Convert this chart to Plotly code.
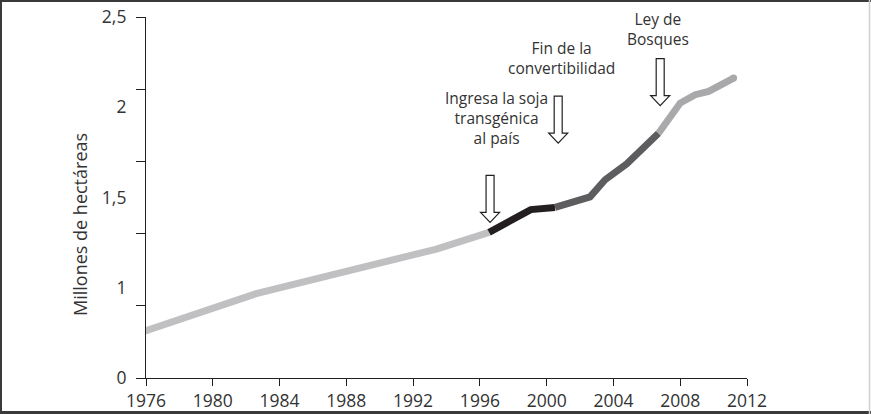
import plotly.graph_objects as go

# ---- data ----
years = [1976, 1982.6, 1993.4, 1996.55, 1999.05, 2000.5, 2002.6, 2003.5,
         2004.8, 2006.7, 2008.0, 2008.9, 2009.7, 2011.2]
values = [0.328, 0.584, 0.893, 1.008, 1.166, 1.181, 1.254, 1.373,
          1.484, 1.695, 1.904, 1.962, 1.985, 2.077]
# segment boundaries (indices into years/values) and colours
segment_bounds = [(0, 3), (3, 5), (5, 9), (9, 13)]
segment_colors = ["#c0c0c2", "#231f20", "#5d5d5f", "#a9a9ab"]

x_ticks = list(range(1976, 2013, 4))
y_tick_marks = [0, 0.5, 1.0, 1.5, 2.0, 2.5]
y_label_vals = [0, 0.625, 1.25, 1.875, 2.5]
y_label_text = ["0", "1", "1,5", "2", "2,5"]

events = ["Ingresa la soja<br>transgénica<br>al país",
          "Fin de la<br>convertibilidad",
          "Ley de<br>Bosques"]
event_years = [1996.61, 2000.69, 2006.8]
event_tip_values = [1.078, 1.627, 1.886]

# ---- layout geometry ----
W, H = 871, 414
ML, MR, MT, MB = 146, 124, 17, 36
PW, PH = W - ML - MR, H - MT - MB


def px_x(px):
    return (px - ML) / PW


def px_y(py):
    return (H - MB - py) / PH


DARK = "#231f20"
TXT = "#333333"
FONT = "Open Sans"

fig = go.Figure()
for (a, b), col in zip(segment_bounds, segment_colors):
    fig.add_trace(go.Scatter(
        x=years[a:b + 1], y=values[a:b + 1], mode="lines",
        line=dict(color=col, width=7), showlegend=False, hoverinfo="skip"))

# rounded ends of the line
fig.add_trace(go.Scatter(
    x=[years[0], years[-1]], y=[values[0], values[-1]], mode="markers",
    marker=dict(color=[segment_colors[0], segment_colors[-1]], size=7),
    showlegend=False, hoverinfo="skip"))

# invisible trace for the tick-mark axis
fig.add_trace(go.Scatter(x=[1976], y=[0], yaxis="y2", mode="markers",
                         marker=dict(opacity=0), showlegend=False,
                         hoverinfo="skip"))

shapes = []
arrow_path = "M -4,47 L 4,47 L 4,10 L 9.5,10 L 0,0 L -9.5,10 L -4,10 Z"
for yr, v in zip(event_years, event_tip_values):
    shapes.append(dict(type="path", xref="x", yref="y",
                       xsizemode="pixel", ysizemode="pixel",
                       xanchor=yr, yanchor=v, path=arrow_path,
                       line=dict(color=DARK, width=1.2), fillcolor="white"))

# frame around the picture
shapes += [
    dict(type="line", xref="paper", yref="paper", x0=px_x(1), x1=px_x(1),
         y0=px_y(0), y1=px_y(H), line=dict(color="#3a3a3a", width=2)),
    dict(type="line", xref="paper", yref="paper", x0=px_x(0), x1=px_x(W),
         y0=px_y(1), y1=px_y(1), line=dict(color="#3a3a3a", width=2)),
    dict(type="line", xref="paper", yref="paper", x0=px_x(0), x1=px_x(W),
         y0=px_y(412.5), y1=px_y(412.5), line=dict(color="#3a3a3a", width=3)),
    dict(type="line", xref="paper", yref="paper", x0=px_x(869.5), x1=px_x(869.5),
         y0=px_y(0), y1=px_y(H), line=dict(color="#cfcfcf", width=1.5)),
]

# event label text positions (pixel centres)
label_px = [(496, 117.5), (561, 57.5), (658, 28.8)]
annotations = []
for txt, (lx, ly) in zip(events, label_px):
    annotations.append(dict(text=txt, xref="paper", yref="paper",
                            x=px_x(lx), y=px_y(ly), xanchor="center",
                            yanchor="middle", showarrow=False, align="center",
                            font=dict(family=FONT, size=15.5, color=TXT)))
annotations.append(dict(text="Millones de hectáreas", xref="paper", yref="paper",
                        x=px_x(80), y=px_y(225), textangle=-90,
                        xanchor="center", yanchor="middle", showarrow=False,
                        font=dict(family=FONT, size=18, color=TXT)))

fig.update_layout(
    width=W, height=H,
    margin=dict(l=ML, r=MR, t=MT, b=MB, autoexpand=False),
    paper_bgcolor="white", plot_bgcolor="white",
    xaxis=dict(range=[1976, 2012], tickvals=x_ticks, ticks="outside",
               ticklen=7, tickwidth=1, tickcolor=DARK,
               showline=True, linecolor=DARK, linewidth=1.2,
               showgrid=False, zeroline=False,
               tickfont=dict(family=FONT, size=17.5, color=TXT)),
    yaxis=dict(range=[0, 2.5], tickvals=y_label_vals, ticktext=y_label_text,
               ticks="outside", ticklen=15, tickcolor="rgba(0,0,0,0)",
               showline=True, linecolor=DARK, linewidth=1.2,
               showgrid=False, zeroline=False,
               tickfont=dict(family=FONT, size=17.5, color=TXT)),
    yaxis2=dict(range=[0, 2.5], overlaying="y", side="left",
                tickvals=y_tick_marks, ticks="outside", ticklen=9,
                tickwidth=1, tickcolor=DARK, showticklabels=False,
                showline=False, showgrid=False, zeroline=False),
    shapes=shapes, annotations=annotations,
)

fig.write_html("out.html",
               config={"displayModeBar": False},
               post_script="document.body.style.margin='0';"
                           "document.body.style.overflow='hidden';")
